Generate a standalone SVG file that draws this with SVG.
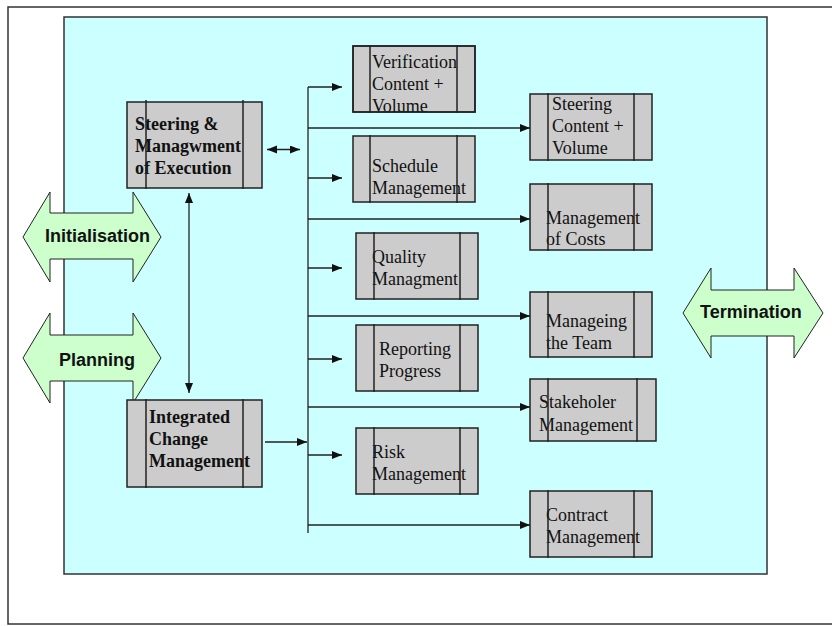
<svg xmlns="http://www.w3.org/2000/svg" width="832" height="626" viewBox="0 0 832 626">
  <defs>
    <marker id="head" markerUnits="userSpaceOnUse" markerWidth="11" markerHeight="9" refX="10" refY="4" orient="auto-start-reverse">
      <path d="M0,0 L10,4 L0,8 z" fill="#111"/>
    </marker>
    <clipPath id="clip-verif"><rect x="353" y="46" width="122" height="66"/></clipPath>
    <style>
      .frame { fill: #ffffff; stroke: #333333; stroke-width: 1.5; }
      .area { fill: #ccffff; stroke: #333333; stroke-width: 1.5; }
      .box { fill: #cccccc; stroke: #222222; stroke-width: 1.5; }
      .bar { stroke: #222222; stroke-width: 1.5; }
      .phase { fill: #ccffcc; stroke: #222222; stroke-width: 1; }
      .phase-text { font-family: "Liberation Sans", Arial, sans-serif; font-size: 18px; font-weight: bold; fill: #111; }
      .label { font-family: "Liberation Serif", "Times New Roman", serif; font-size: 18px; fill: #111; }
      .label-b { font-family: "Liberation Serif", "Times New Roman", serif; font-size: 18px; font-weight: bold; fill: #111; }
      .conn { stroke: #222222; stroke-width: 1.3; fill: none; }
    </style>
  </defs>

  <!-- page frame and process area -->
  <rect class="frame" x="8" y="7" width="830" height="617"/>
  <rect class="area" x="64" y="17" width="703" height="557"/>

  <!-- phase arrows -->
  <g id="initialisation">
    <polygon class="phase" points="23,237 50,192 50,213 133,213 133,192 161,237 133,282 133,259 50,259 50,282"/>
    <text class="phase-text" x="45" y="242">Initialisation</text>
  </g>
  <g id="planning">
    <polygon class="phase" points="23,358 50,313 50,335 133,335 133,313 161,358 133,403 133,381 50,381 50,403"/>
    <text class="phase-text" x="59" y="366">Planning</text>
  </g>
  <g id="termination">
    <polygon class="phase" points="683,313 711,268 711,290 794,290 794,268 823,313 794,358 794,336 711,336 711,358"/>
    <text class="phase-text" x="700" y="318">Termination</text>
  </g>

  <!-- connectors -->
  <g id="connectors">
    <line class="conn" x1="267" y1="149.5" x2="300" y2="149.5" marker-start="url(#head)" marker-end="url(#head)"/>
    <line class="conn" x1="189" y1="193" x2="189" y2="393" marker-start="url(#head)" marker-end="url(#head)"/>
    <line class="conn" x1="265" y1="442" x2="307" y2="442" marker-end="url(#head)"/>
    <line class="conn" x1="308" y1="87" x2="308" y2="533"/>
    <line class="conn" x1="308" y1="87" x2="342" y2="87" marker-end="url(#head)"/>
    <line class="conn" x1="308" y1="128" x2="530" y2="128" marker-end="url(#head)"/>
    <line class="conn" x1="308" y1="178" x2="342" y2="178" marker-end="url(#head)"/>
    <line class="conn" x1="308" y1="219" x2="530" y2="219" marker-end="url(#head)"/>
    <line class="conn" x1="308" y1="268" x2="342" y2="268" marker-end="url(#head)"/>
    <line class="conn" x1="308" y1="316" x2="530" y2="316" marker-end="url(#head)"/>
    <line class="conn" x1="308" y1="359" x2="342" y2="359" marker-end="url(#head)"/>
    <line class="conn" x1="308" y1="407" x2="530" y2="407" marker-end="url(#head)"/>
    <line class="conn" x1="308" y1="455" x2="342" y2="455" marker-end="url(#head)"/>
    <line class="conn" x1="308" y1="525" x2="530" y2="525" marker-end="url(#head)"/>
  </g>

  <!-- control processes -->
  <g id="steering-execution">
    <rect class="box" x="127" y="102" width="135" height="86"/>
    <text class="label-b" x="135" y="130">Steering &amp;</text>
    <text class="label-b" x="135" y="152">Managwment</text>
    <text class="label-b" x="135" y="174">of Execution</text>
    <line class="bar" x1="146" y1="100" x2="146" y2="189"/>
    <line class="bar" x1="243" y1="100" x2="243" y2="189"/>
  </g>
  <g id="integrated-change">
    <rect class="box" x="127" y="400" width="135" height="87"/>
    <text class="label-b" x="149" y="423">Integrated</text>
    <text class="label-b" x="149" y="445">Change</text>
    <text class="label-b" x="149" y="467">Management</text>
    <line class="bar" x1="146" y1="399" x2="146" y2="488"/>
    <line class="bar" x1="243" y1="399" x2="243" y2="488"/>
  </g>

  <!-- left column -->
  <g id="verification">
    <rect class="box" x="353" y="46" width="122" height="66"/>
    <g clip-path="url(#clip-verif)">
      <text class="label" x="372" y="68">Verification</text>
      <text class="label" x="372" y="90">Content +</text>
      <text class="label" x="372" y="112">Volume</text>
    </g>
    <rect x="353" y="46" width="122" height="66" fill="none" stroke="#222" stroke-width="1.5"/>
    <line class="bar" x1="370" y1="45" x2="370" y2="113"/>
    <line class="bar" x1="457" y1="45" x2="457" y2="113"/>
  </g>
  <g id="schedule">
    <rect class="box" x="353" y="136" width="122" height="66"/>
    <text class="label" x="372" y="172">Schedule</text>
    <text class="label" x="372" y="194">Management</text>
    <line class="bar" x1="370" y1="135" x2="370" y2="203"/>
    <line class="bar" x1="457" y1="135" x2="457" y2="203"/>
  </g>
  <g id="quality">
    <rect class="box" x="356" y="233" width="122" height="66"/>
    <text class="label" x="372" y="263">Quality</text>
    <text class="label" x="372" y="285">Managment</text>
    <line class="bar" x1="374" y1="232" x2="374" y2="300"/>
    <line class="bar" x1="460" y1="232" x2="460" y2="300"/>
  </g>
  <g id="reporting">
    <rect class="box" x="356" y="325" width="122" height="66"/>
    <text class="label" x="379" y="355">Reporting</text>
    <text class="label" x="379" y="377">Progress</text>
    <line class="bar" x1="374" y1="324" x2="374" y2="392"/>
    <line class="bar" x1="460" y1="324" x2="460" y2="392"/>
  </g>
  <g id="risk">
    <rect class="box" x="356" y="428" width="122" height="66"/>
    <text class="label" x="372" y="458">Risk</text>
    <text class="label" x="372" y="480">Management</text>
    <line class="bar" x1="374" y1="427" x2="374" y2="495"/>
    <line class="bar" x1="460" y1="427" x2="460" y2="495"/>
  </g>

  <!-- right column -->
  <g id="steering-content">
    <rect class="box" x="530" y="94" width="122" height="66"/>
    <text class="label" x="552" y="110">Steering</text>
    <text class="label" x="552" y="132">Content +</text>
    <text class="label" x="552" y="154">Volume</text>
    <line class="bar" x1="548" y1="93" x2="548" y2="161"/>
    <line class="bar" x1="634" y1="93" x2="634" y2="161"/>
  </g>
  <g id="costs">
    <rect class="box" x="530" y="184" width="122" height="66"/>
    <text class="label" x="546" y="224">Management</text>
    <text class="label" x="546" y="245">of Costs</text>
    <line class="bar" x1="548" y1="183" x2="548" y2="251"/>
    <line class="bar" x1="634" y1="183" x2="634" y2="251"/>
  </g>
  <g id="team">
    <rect class="box" x="530" y="292" width="122" height="65"/>
    <text class="label" x="546" y="327">Manageing</text>
    <text class="label" x="546" y="349">the Team</text>
    <line class="bar" x1="548" y1="291" x2="548" y2="358"/>
    <line class="bar" x1="634" y1="291" x2="634" y2="358"/>
  </g>
  <g id="stakeholder">
    <rect class="box" x="530" y="379" width="126" height="62"/>
    <text class="label" x="539" y="408">Stakeholer</text>
    <text class="label" x="539" y="431">Management</text>
    <line class="bar" x1="548" y1="378" x2="548" y2="442"/>
    <line class="bar" x1="637" y1="378" x2="637" y2="442"/>
  </g>
  <g id="contract">
    <rect class="box" x="530" y="491" width="122" height="66"/>
    <text class="label" x="546" y="521">Contract</text>
    <text class="label" x="546" y="543">Management</text>
    <line class="bar" x1="548" y1="490" x2="548" y2="558"/>
    <line class="bar" x1="634" y1="490" x2="634" y2="558"/>
  </g>
</svg>
